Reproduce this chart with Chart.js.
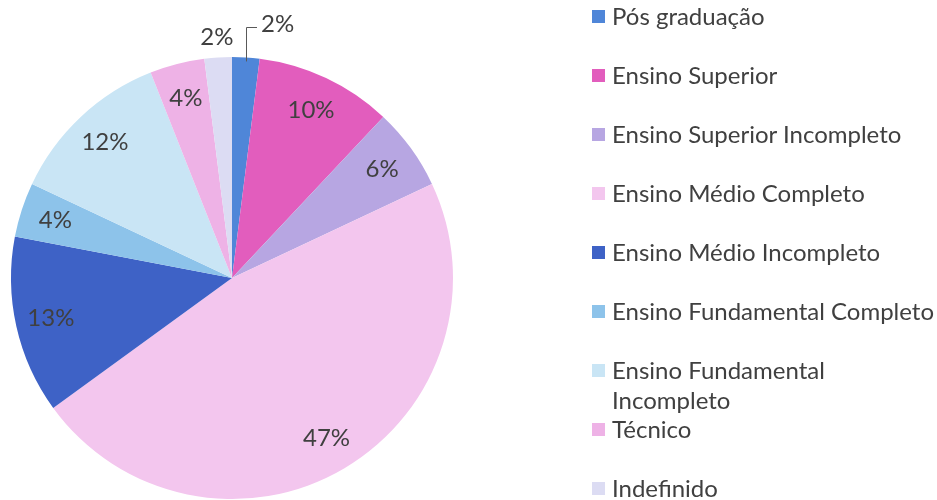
<!DOCTYPE html>
<html>
<head>
<meta charset="utf-8">
<script src="https://cdn.jsdelivr.net/npm/chart.js@4/dist/chart.umd.min.js"></script>
<style>
  body { margin: 0; background: #fff; }
  #wrap { position: relative; width: 937px; height: 500px; }
  #pie { position: absolute; left: 0; top: 0; }
  #legend { position: absolute; left: 592px; top: 0; font-family: Lato, sans-serif; font-size: 24px; color: #404040; }
  .row { position: absolute; left: 0; display: flex; align-items: flex-start; width: 345px; }
  .box { width: 13px; height: 13px; margin-top: 9px; margin-right: 7px; flex: none; }
  .txt { line-height: 30px; max-width: 325px; white-space: normal; }
</style>
</head>
<body>
<div id="wrap">
  <canvas id="pie" width="937" height="500"></canvas>
  <div id="legend"></div>
</div>
<script>
const categories = [
  'Pós graduação',
  'Ensino Superior',
  'Ensino Superior Incompleto',
  'Ensino Médio Completo',
  'Ensino Médio Incompleto',
  'Ensino Fundamental Completo',
  'Ensino Fundamental Incompleto',
  'Técnico',
  'Indefinido',
];
const values = [2, 10, 6, 47, 13, 4, 12, 4, 2];
const colors = ['#4f86d8', '#e25dbd', '#b7a6e2', '#f3c6ee', '#3e62c6', '#8dc3ea', '#c9e5f5', '#eeb2e6', '#dcdcf3'];

const total = values.reduce((a, b) => a + b, 0);

// percent labels, the two small slices at the top go outside
const pctLabels = {
  id: 'pctLabels',
  afterDatasetsDraw(chart) {
    const ctx = chart.ctx;
    const arcs = chart.getDatasetMeta(0).data;
    ctx.save();
    ctx.font = '24px Lato, sans-serif';
    ctx.fillStyle = '#404040';
    ctx.textAlign = 'center';
    ctx.textBaseline = 'middle';
    arcs.forEach((arc, i) => {
      const { x, y, startAngle, endAngle, outerRadius } = arc.getProps(['x', 'y', 'startAngle', 'endAngle', 'outerRadius'], true);
      const mid = (startAngle + endAngle) / 2;
      const txt = Math.round(values[i] / total * 100) + '%';
      if (i === 0) {
        const ex = Math.round(x + Math.cos(mid) * (outerRadius - 4));
        const ey = y + Math.sin(mid) * (outerRadius - 4);
        const top = Math.round(y - outerRadius - 30);
        ctx.strokeStyle = '#595959';
        ctx.lineWidth = 1;
        ctx.beginPath();
        ctx.moveTo(ex + 0.5, ey);
        ctx.lineTo(ex + 0.5, top + 0.5);
        ctx.lineTo(ex + 11, top + 0.5);
        ctx.stroke();
        ctx.textAlign = 'left';
        ctx.fillText(txt, ex + 15, top - 3);
        ctx.textAlign = 'center';
      } else if (i === categories.length - 1) {
        const r = outerRadius * 1.09;
        ctx.fillText(txt, x + Math.cos(mid) * r, y + Math.sin(mid) * r);
      } else {
        const r = outerRadius * 0.84;
        ctx.fillText(txt, x + Math.cos(mid) * r, y + Math.sin(mid) * r);
      }
    });
    ctx.restore();
  }
};

new Chart(document.getElementById('pie'), {
  type: 'pie',
  data: {
    labels: categories,
    datasets: [{ data: values, backgroundColor: colors, borderWidth: 0 }],
  },
  options: {
    responsive: false,
    animation: false,
    layout: { padding: { left: 11, right: 484, top: 57, bottom: 1 } },
    plugins: {
      legend: { display: false },
      tooltip: { enabled: false },
    },
  },
  plugins: [pctLabels],
});

// legend
const legend = document.getElementById('legend');
categories.forEach((name, i) => {
  const row = document.createElement('div');
  row.className = 'row';
  row.style.top = (16 + i * 59 - 15) + 'px';
  row.innerHTML = '<span class="box" style="background:' + colors[i] + '"></span><span class="txt">' + name + '</span>';
  legend.appendChild(row);
});
</script>
</body>
</html>
